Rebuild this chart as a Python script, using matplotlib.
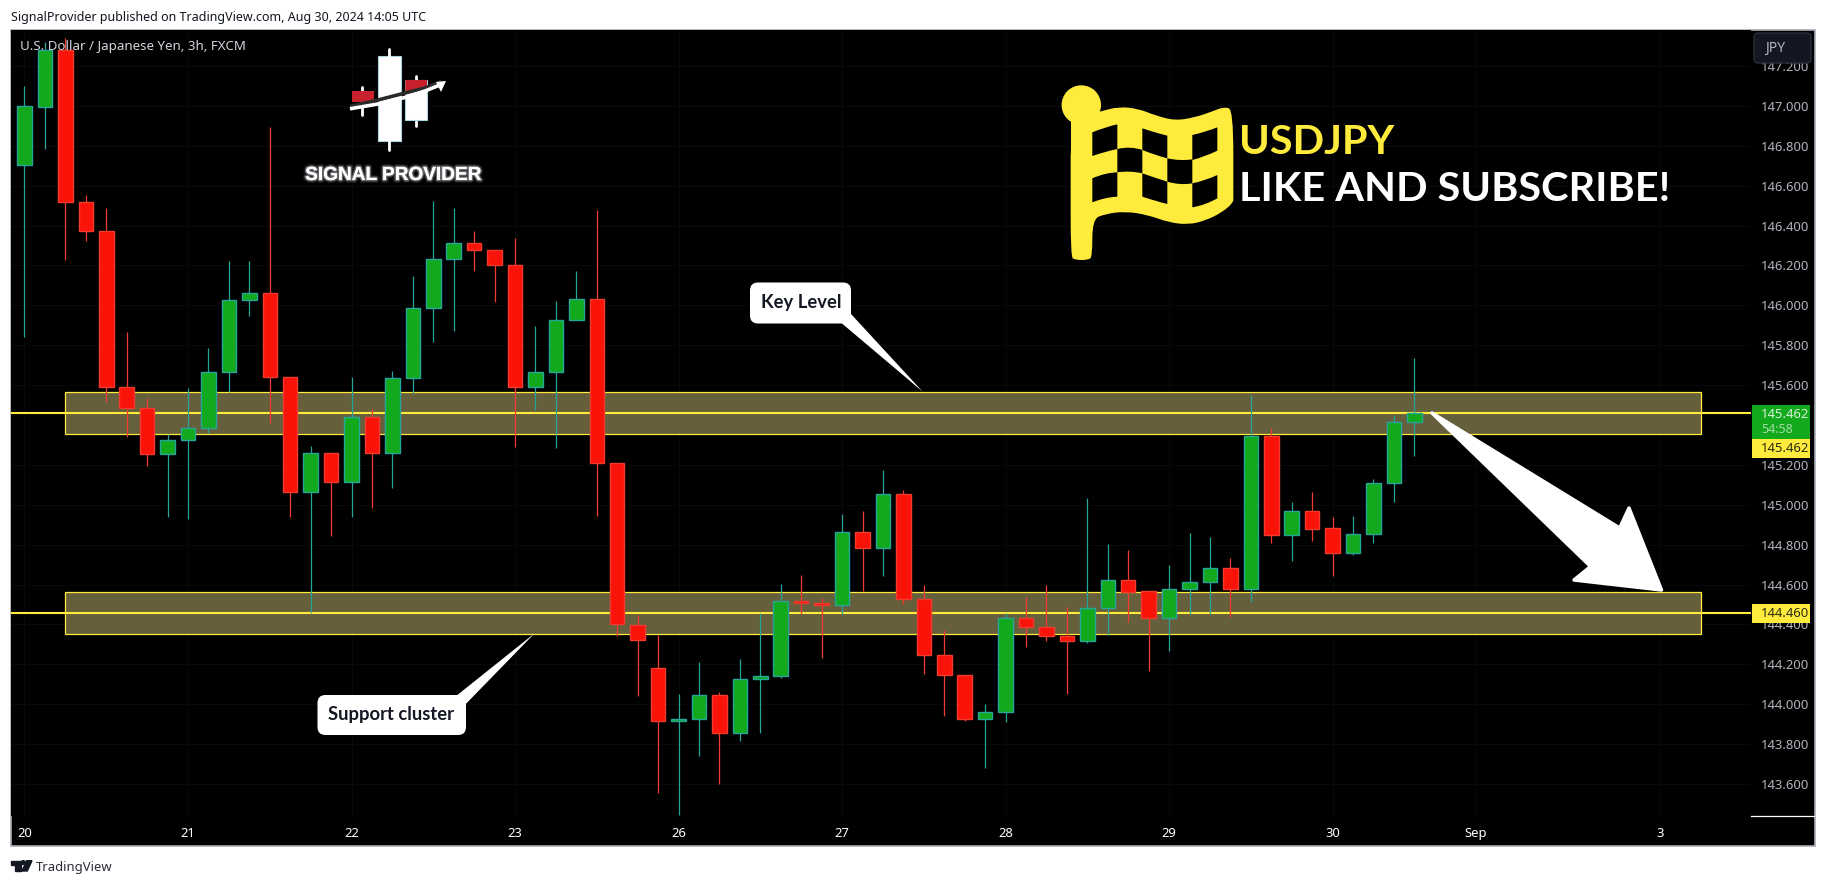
import matplotlib
matplotlib.use('Agg')
import matplotlib.pyplot as plt
import matplotlib.patheffects as pe
from matplotlib.patches import Circle, FancyBboxPatch, PathPatch, Polygon, Rectangle
from matplotlib.path import Path

W, H = 1825, 886

opens = [146.702, 146.996, 147.278, 146.516, 146.371, 145.592, 145.484, 145.253, 145.323, 145.383,
         145.664, 146.025, 146.060, 145.642, 145.063, 145.258, 145.116, 145.442, 145.262, 145.634,
         145.985, 146.231, 146.311, 146.276, 146.204, 145.592, 145.668, 145.925, 146.030, 145.208,
         144.398, 144.183, 143.915, 143.925, 144.047, 143.855, 144.126, 144.143, 144.518, 144.508,
         144.497, 144.864, 144.782, 145.055, 144.527, 144.246, 144.146, 143.925, 143.960, 144.433,
         144.386, 144.341, 144.316, 144.483, 144.624, 144.569, 144.432, 144.579, 144.612, 144.681,
         144.580, 145.344, 144.847, 144.967, 144.882, 144.760, 144.852, 145.107, 145.417]
closes = [146.998, 147.278, 146.516, 146.371, 145.592, 145.484, 145.253, 145.323, 145.383, 145.664,
          146.025, 146.060, 145.642, 145.063, 145.258, 145.116, 145.442, 145.262, 145.634, 145.985,
          146.231, 146.311, 146.276, 146.204, 145.592, 145.668, 145.925, 146.030, 145.208, 144.401,
          144.321, 143.915, 143.927, 144.047, 143.855, 144.128, 144.143, 144.518, 144.507, 144.497,
          144.864, 144.782, 145.055, 144.527, 144.246, 144.146, 143.925, 143.962, 144.433, 144.386,
          144.341, 144.316, 144.483, 144.624, 144.565, 144.432, 144.579, 144.614, 144.684, 144.580,
          145.344, 144.847, 144.967, 144.880, 144.760, 144.852, 145.107, 145.417, 145.462]
highs = [147.099, 147.322, 147.338, 146.551, 146.486, 145.866, 145.534, 145.355, 145.584, 145.784,
         146.222, 146.222, 146.894, 145.642, 145.295, 145.258, 145.641, 145.479, 145.671, 146.147,
         146.523, 146.486, 146.371, 146.276, 146.336, 145.896, 146.020, 146.172, 146.476, 145.208,
         144.450, 144.345, 144.054, 144.214, 144.064, 144.229, 144.457, 144.605, 144.650, 144.532,
         144.956, 144.971, 145.172, 145.072, 144.600, 144.370, 144.146, 144.002, 144.460, 144.540,
         144.600, 144.490, 145.035, 144.804, 144.771, 144.569, 144.696, 144.861, 144.841, 144.734,
         145.550, 145.384, 145.014, 145.063, 144.939, 144.943, 145.129, 145.448, 145.734]
lows = [145.843, 146.785, 146.229, 146.324, 145.517, 145.342, 145.196, 144.941, 144.927, 145.362,
        145.567, 145.948, 145.409, 144.941, 144.459, 144.845, 144.941, 144.986, 145.086, 145.559,
        145.818, 145.873, 146.174, 146.018, 145.292, 145.475, 145.287, 145.925, 144.946, 144.344,
        144.044, 143.554, 143.444, 143.740, 143.600, 143.818, 143.855, 144.131, 144.453, 144.231,
        144.453, 144.570, 144.642, 144.505, 144.151, 143.940, 143.914, 143.680, 143.910, 144.286,
        144.316, 144.054, 144.306, 144.346, 144.412, 144.169, 144.266, 144.453, 144.453, 144.439,
        144.514, 144.809, 144.718, 144.819, 144.643, 144.749, 144.809, 145.014, 145.244]

price_ticks = [143.6, 143.8, 144.0, 144.2, 144.4, 144.6, 144.8, 145.0, 145.2, 145.6, 145.8,
               146.0, 146.2, 146.4, 146.6, 146.8, 147.0, 147.2]
time_ticks = [0, 8, 16, 24, 32, 40, 48, 56, 64, 71, 80]
time_labels = ['20', '21', '22', '23', '26', '27', '28', '29', '30', 'Sep', '3']

level_prices = [145.462, 144.460]
zone_tops = [145.564, 144.564]
zone_bottoms = [145.353, 144.353]
zone_start, zone_end = 2, 82

GREEN, GREEN_EDGE = '#12a91c', '#26a69a'
RED, RED_EDGE = '#f91309', '#f23b2f'
YELLOW = '#ffeb3b'
UI_FONT = 'Noto Sans'

fig = plt.figure(figsize=(W / 100, H / 100), dpi=100, facecolor='white')

# black pane behind both axes, in pixels from the top left
fig.patches.append(Rectangle((11 / W, 1 - 846 / H), 1804 / W, 816 / H, transform=fig.transFigure,
                             facecolor='black', edgecolor='#a8abb3', linewidth=1.2, zorder=-1))

ax = fig.add_axes([11 / W, 1 - 816 / H, 1740 / W, 786 / H], facecolor='black')
ax.set_xlim(-0.66, 84.47)
ax.set_ylim(143.44, 147.38)
for s in ax.spines.values():
    s.set_visible(False)

ax.yaxis.tick_right()
ax.set_yticks(price_ticks)
ax.set_yticklabels(['%.3f' % p for p in price_ticks], fontsize=9.4, color='#b2b5be', family=UI_FONT)
ax.tick_params(axis='y', length=0, pad=7)
ax.set_xticks(time_ticks)
ax.set_xticklabels(time_labels, fontsize=9.4, color='white', family=UI_FONT)
ax.tick_params(axis='x', length=0, pad=8)
ax.get_xticklabels()[9].set_fontweight('bold')
ax.grid(True, color='#0a0a0a', linewidth=0.7, zorder=0)
ax.set_axisbelow(True)

# zones and levels sit under the candles
for top, bottom in zip(zone_tops, zone_bottoms):
    ax.add_patch(Rectangle((zone_start, bottom), zone_end - zone_start, top - bottom, facecolor='#665f3c',
                           edgecolor=YELLOW, linewidth=0.9, zorder=1))
for level in level_prices:
    ax.axhline(level, color=YELLOW, linewidth=1.5, zorder=2)

xs = list(range(len(opens)))
up = [c >= o for o, c in zip(opens, closes)]
ax.vlines(xs, lows, highs, colors=[GREEN_EDGE if u else RED_EDGE for u in up], linewidth=0.9, zorder=3)
ax.bar(xs, [abs(c - o) for o, c in zip(opens, closes)], bottom=[min(o, c) for o, c in zip(opens, closes)],
       width=0.71, color=[GREEN if u else RED for u in up], edgecolor=[GREEN_EDGE if u else RED_EDGE for u in up],
       linewidth=1.0, zorder=4)

# everything drawn on top of the chart uses a pixel overlay
deco = fig.add_axes([0, 0, 1, 1], facecolor='none')
deco.set_xlim(0, W)
deco.set_ylim(H, 0)
deco.axis('off')

deco.text(11, 17, 'SignalProvider published on TradingView.com, Aug 30, 2024 14:05 UTC', fontsize=9,
          color='#131722', family=UI_FONT, va='center')
deco.text(20, 46.5, 'U.S. Dollar / Japanese Yen, 3h, FXCM', fontsize=9.6, color='#d1d4dc', family=UI_FONT,
          va='center')
deco.text(36, 867, 'TradingView', fontsize=9.4, color='#2a2e39', family=UI_FONT, va='center')
deco.add_patch(Polygon([(11, 860.7), (21, 860.7), (21, 871), (15.5, 871), (15.5, 865), (11, 865)], color='#131722'))
deco.add_patch(Circle((23.3, 862.5), 1.9, color='#131722'))
deco.add_patch(Polygon([(26.7, 860.7), (32, 860.7), (27.3, 871), (22, 871)], color='#131722'))

# price scale widgets
deco.add_patch(FancyBboxPatch((1756, 35), 53, 26, boxstyle='round,pad=2,rounding_size=4', facecolor='#131722',
                              edgecolor='#2a2e39', linewidth=1))
deco.text(1765, 48, 'JPY', fontsize=10, color='#b2b5be', family=UI_FONT, va='center')
deco.add_patch(Rectangle((1752, 405), 58.5, 33.5, facecolor=GREEN))
deco.text(1761, 414, '145.462', fontsize=9.4, color='#d8f0d8', family=UI_FONT, va='center')
deco.text(1761, 429, '54:58', fontsize=9, color='#a4dba4', family=UI_FONT, va='center')
deco.add_patch(Rectangle((1752, 439), 58.5, 18.5, facecolor=YELLOW))
deco.text(1761, 448.5, '145.462', fontsize=9.4, color='#2a2a10', family=UI_FONT, va='center')
deco.add_patch(Rectangle((1752, 604), 58.5, 19, facecolor=YELLOW))
deco.text(1761, 613.5, '144.460', fontsize=9.4, color='#2a2a10', family=UI_FONT, va='center')
deco.plot([1751, 1814], [815.6, 815.6], color='white', linewidth=0.9)

# callouts
deco.add_patch(FancyBboxPatch((758, 290.5), 85, 25, boxstyle='round,pad=8,rounding_size=8', facecolor='white',
                              edgecolor='none', zorder=5))
deco.add_patch(Polygon([(851, 314), (922.7, 391.7), (842, 323.5)], facecolor='white', edgecolor='none', zorder=5))
deco.text(801, 302.5, 'Key Level', fontsize=13.2, fontweight='bold', family='Lato', color='#131722', ha='center',
          va='center', zorder=6)
deco.add_patch(FancyBboxPatch((325.5, 703), 132.5, 24, boxstyle='round,pad=8,rounding_size=8', facecolor='white',
                              edgecolor='none', zorder=5))
deco.add_patch(Polygon([(456.7, 695.5), (534.6, 633.3), (465.8, 704)], facecolor='white', edgecolor='none', zorder=5))
deco.text(391.5, 714.5, 'Support cluster', fontsize=13.2, fontweight='bold', family='Lato', color='#131722',
          ha='center', va='center', zorder=6)

# forecast arrow
deco.add_patch(Polygon([(1432, 413), (1619.7, 528), (1629, 508), (1661.5, 590), (1574, 580), (1590.6, 566.5)],
                       facecolor='white', edgecolor='white', linewidth=2.5, joinstyle='round', zorder=5))


def flag_pts(pts):
    return [(1055 + x / 3, 80 + y / 3) for x, y in pts]


# closed outline, quadratic pieces between midpoints so the waves come out smooth
def smooth_outline(pts):
    pts = flag_pts(pts)
    mids = [((a[0] + b[0]) / 2, (a[1] + b[1]) / 2) for a, b in zip(pts, pts[1:] + pts[:1])]
    verts, codes = [mids[-1]], [Path.MOVETO]
    for p, m in zip(pts, mids):
        verts += [p, m]
        codes += [Path.CURVE3, Path.CURVE3]
    return Path(verts, codes)


# cell with two curved edges: three points along the top, three back along the bottom
def cell_path(cell):
    p = flag_pts(cell)
    c1 = (2 * p[1][0] - (p[0][0] + p[2][0]) / 2, 2 * p[1][1] - (p[0][1] + p[2][1]) / 2)
    c2 = (2 * p[4][0] - (p[3][0] + p[5][0]) / 2, 2 * p[4][1] - (p[3][1] + p[5][1]) / 2)
    verts = [p[0], c1, p[2], p[3], c2, p[5], p[0]]
    codes = [Path.MOVETO, Path.CURVE3, Path.CURVE3, Path.LINETO, Path.CURVE3, Path.CURVE3, Path.CLOSEPOLY]
    return Path(verts, codes)


flag_outline = [(47, 100), (47, 300), (112, 100), (135, 95), (190, 80), (250, 86), (300, 106), (360, 122), (420, 112),
                (470, 95), (508, 80), (535, 90), (535, 350), (535, 368), (500, 398), (450, 422), (400, 434),
                (340, 427), (280, 405), (210, 394), (150, 402), (112, 418), (112, 530), (100, 540), (60, 540),
                (47, 530), (47, 300)]
flag_cells = [
    [(112, 157), (150, 143), (187, 133), (187, 207), (150, 216), (112, 228)],
    [(262, 145), (300, 157), (337, 167), (337, 235), (300, 224), (262, 210)],
    [(412, 165), (450, 155), (487, 142), (487, 212), (450, 228), (412, 240)],
    [(187, 207), (225, 203), (262, 210), (262, 280), (225, 275), (187, 277)],
    [(337, 235), (375, 240), (412, 238), (412, 310), (375, 312), (337, 305)],
    [(112, 295), (150, 282), (187, 277), (187, 350), (150, 355), (112, 367)],
    [(262, 280), (300, 293), (337, 305), (337, 372), (300, 362), (262, 350)],
    [(412, 310), (450, 300), (487, 285), (487, 355), (450, 372), (412, 382)],
]
deco.add_patch(PathPatch(smooth_outline(flag_outline), facecolor=YELLOW, edgecolor='none'))
deco.add_patch(Rectangle((1070.7, 110), 21.6, 70, facecolor=YELLOW, edgecolor='none'))
deco.add_patch(Circle((1081.3, 105), 19, color=YELLOW))
for cell in flag_cells:
    deco.add_patch(PathPatch(cell_path(cell), facecolor='black', edgecolor='none'))

deco.text(1239, 142, 'USDJPY', fontsize=29.8, color=YELLOW, family='Lato', fontweight='bold', va='center')
deco.text(1239, 189, 'LIKE AND SUBSCRIBE!', fontsize=29.8, color='white', family='Lato', fontweight='bold', va='center')

# signal provider logo
glow = [pe.withStroke(linewidth=4, foreground='#8a8f96', alpha=0.18),
        pe.withStroke(linewidth=2, foreground='#c0c4ca', alpha=0.45)]
for x, y0, y1 in [(389.3, 49, 150), (362.3, 87, 115), (415.7, 76, 126)]:
    deco.plot([x, x], [y0, y1], color='white', linewidth=2, solid_capstyle='round')
deco.add_patch(Rectangle((378, 56), 22.7, 85, facecolor='white', edgecolor='#a9d3dc', linewidth=0.8))
deco.add_patch(Rectangle((351.7, 91), 22, 11, facecolor='#c8202c', zorder=3))
deco.add_patch(Rectangle((405.3, 80), 21.7, 40, facecolor='white', edgecolor='#a9d3dc', linewidth=0.8, zorder=3))
deco.add_patch(Polygon([(405.3, 80), (427, 80), (427, 88), (405.3, 94)], facecolor='#c8202c', zorder=3))
swoosh_x = [351.7, 378, 405, 425, 440]
deco.plot(swoosh_x, [106, 100, 93, 88, 82], color='#2a2a2a', linewidth=2.6, zorder=4)
deco.plot(swoosh_x, [108.5, 104, 97.5, 91, 85], color='white', linewidth=2.6, zorder=4)
deco.add_patch(Polygon([(446, 81), (436, 82), (441, 92)], facecolor='white', zorder=4))
deco.text(392.8, 175.5, 'SIGNAL PROVIDER', fontsize=13.7, fontweight='bold', family='Liberation Sans',
          color='white', ha='center', va='center', path_effects=glow)

fig.savefig('out.png', dpi=100, facecolor='white')
